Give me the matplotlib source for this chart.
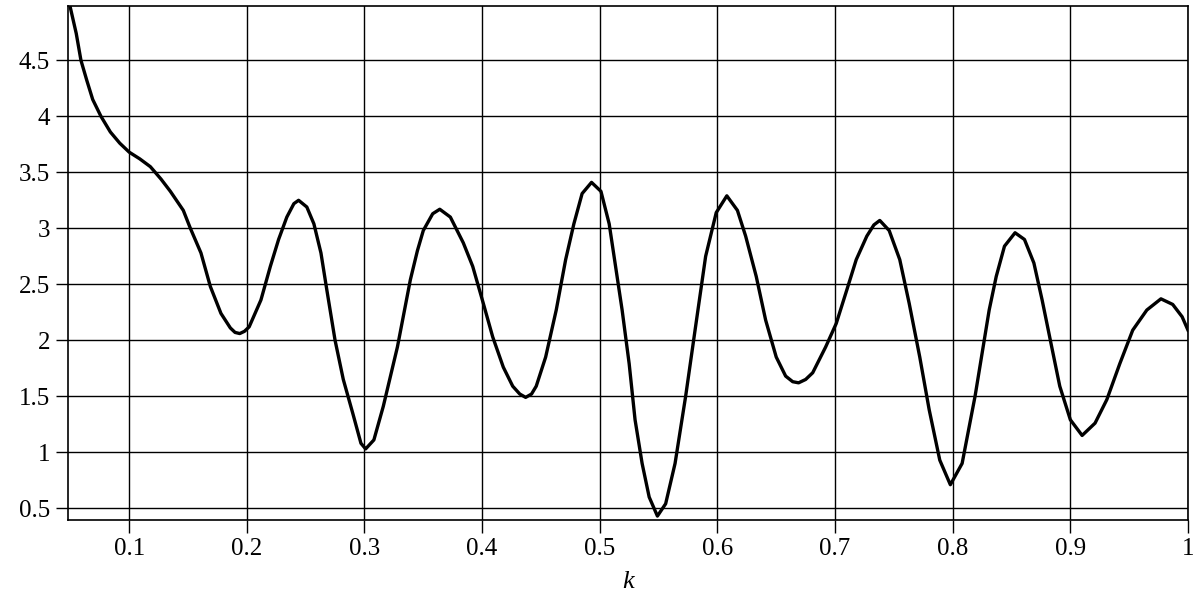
import numpy as np
import matplotlib.pyplot as plt

plt.rcParams['font.family'] = ['Liberation Serif', 'DejaVu Serif']

# values
k = [0.050, 0.055, 0.059, 0.064, 0.069, 0.076, 0.084, 0.092, 0.100, 0.109,
     0.118, 0.127, 0.135, 0.146, 0.152, 0.161, 0.169, 0.178, 0.186, 0.190,
     0.194, 0.198, 0.202, 0.212, 0.220, 0.227, 0.234, 0.240, 0.244, 0.251,
     0.257, 0.263, 0.268, 0.275, 0.282, 0.290, 0.297, 0.301, 0.308, 0.316,
     0.328, 0.339, 0.345, 0.350, 0.358, 0.364, 0.373, 0.384, 0.392, 0.401,
     0.409, 0.418, 0.426, 0.432, 0.437, 0.442, 0.446, 0.454, 0.463, 0.471,
     0.478, 0.485, 0.493, 0.501, 0.508, 0.513, 0.519, 0.525, 0.530, 0.536,
     0.542, 0.549, 0.556, 0.564, 0.573, 0.581, 0.590, 0.599, 0.608, 0.617,
     0.624, 0.633, 0.641, 0.650, 0.658, 0.664, 0.669, 0.675, 0.681, 0.692,
     0.701, 0.710, 0.718, 0.727, 0.733, 0.738, 0.746, 0.755, 0.763, 0.772,
     0.780, 0.789, 0.798, 0.808, 0.819, 0.831, 0.837, 0.844, 0.853, 0.861,
     0.869, 0.876, 0.883, 0.891, 0.900, 0.910, 0.921, 0.931, 0.942, 0.953,
     0.965, 0.977, 0.987, 0.995, 1.000]
f = [4.97, 4.74, 4.50, 4.32, 4.15, 4.00, 3.86, 3.76, 3.68, 3.62,
     3.55, 3.44, 3.33, 3.16, 3.00, 2.78, 2.48, 2.24, 2.11, 2.07,
     2.06, 2.08, 2.12, 2.36, 2.66, 2.90, 3.10, 3.22, 3.25, 3.19,
     3.04, 2.78, 2.45, 2.00, 1.65, 1.35, 1.08, 1.03, 1.11, 1.41,
     1.94, 2.54, 2.80, 2.98, 3.13, 3.17, 3.10, 2.87, 2.66, 2.33,
     2.03, 1.76, 1.59, 1.52, 1.49, 1.52, 1.59, 1.85, 2.27, 2.72,
     3.04, 3.31, 3.41, 3.33, 3.04, 2.69, 2.27, 1.79, 1.29, 0.90,
     0.60, 0.43, 0.54, 0.90, 1.50, 2.09, 2.75, 3.14, 3.29, 3.16,
     2.93, 2.57, 2.18, 1.85, 1.68, 1.63, 1.62, 1.65, 1.71, 1.94,
     2.15, 2.45, 2.72, 2.93, 3.03, 3.07, 2.98, 2.72, 2.33, 1.85,
     1.38, 0.93, 0.71, 0.90, 1.50, 2.27, 2.57, 2.84, 2.96, 2.90,
     2.69, 2.36, 2.00, 1.59, 1.29, 1.15, 1.26, 1.47, 1.79, 2.09,
     2.27, 2.37, 2.32, 2.21, 2.09]

xticks = [0.1, 0.2, 0.3, 0.4, 0.5, 0.6, 0.7, 0.8, 0.9, 1.0]
xlabels = ['0.1', '0.2', '0.3', '0.4', '0.5', '0.6', '0.7', '0.8', '0.9', '1']
yticks = [0.5, 1, 1.5, 2, 2.5, 3, 3.5, 4, 4.5]
ylabels = ['0.5', '1', '1.5', '2', '2.5', '3', '3.5', '4', '4.5']

fig = plt.figure(figsize=(12, 6), dpi=100)
ax = fig.add_axes([68/1200, 80/600, 1120/1200, 514/600])
ax.plot(k, f, color='black', lw=2.4, solid_joinstyle='round', zorder=3)

ax.set_xlim(0.048, 1.0)
ax.set_ylim(0.395, 4.985)
ax.set_xticks(xticks)
ax.set_xticklabels(xlabels)
ax.set_yticks(yticks)
ax.set_yticklabels(ylabels)
ax.grid(True, color='black', lw=1.0)
ax.tick_params(direction='out', length=9, width=1.0, labelsize=18, colors='black', pad=4)
for s in ax.spines.values():
    s.set_linewidth(1.2)
ax.set_xlabel('k', fontsize=19, fontstyle='italic', labelpad=8)

fig.savefig('out.png', dpi=100)
